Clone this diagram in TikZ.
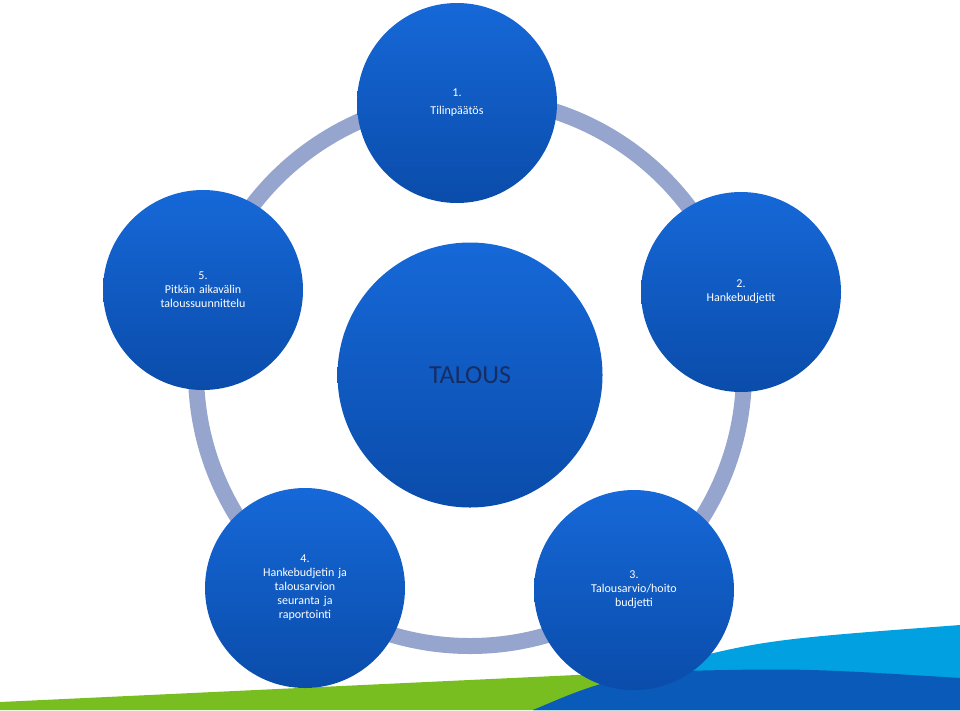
\documentclass[tikz,border=0pt]{standalone}
\usepackage{fontspec}
\setmainfont{Carlito}
\definecolor{ringc}{RGB}{150,165,205}
\definecolor{grn}{RGB}{120,190,32}
\definecolor{lblue}{RGB}{0,160,225}
\definecolor{dblue}{RGB}{10,90,185}
\definecolor{navy}{RGB}{22,45,100}
\definecolor{btop}{RGB}{22,104,216}
\definecolor{bbot}{RGB}{10,76,170}
\begin{document}
\begin{tikzpicture}[x=1pt,y=-1pt,
  bub/.style={circle,minimum size=200pt,inner sep=0pt,top color=btop,bottom color=bbot,text=white,font=\fontsize{12}{14}\selectfont,align=center,text width=150pt},
  ]
\useasboundingbox (0,0) rectangle (960,710);
\fill[grn] (0,702) -- (640,672) -- (960,675) -- (960,710) -- (0,710) -- cycle;
\fill[lblue] (533,710) -- (640,672) .. controls (760,640) .. (960,625) -- (960,710) -- cycle;
\fill[dblue] (533,710) .. controls (580,690) .. (640,672) .. controls (800,668) .. (960,678) -- (960,710) -- cycle;
\draw[ringc,line width=16pt] (470,372) circle (274);
\node[circle,minimum size=265pt,inner sep=0pt,top color=btop,bottom color=bbot] (c) at (470,375) {};
\node[text=navy,font=\fontsize{26}{30}\selectfont] (t) at (470,375) {TALOUS};
\node[bub] (n1) at (457,103) {1.\\[4pt]Tilinpäätös};
\node[bub] (n2) at (741,292) {2.\\Hankebudjetit};
\node[bub] (n3) at (634,590) {3.\\Talousarvio/hoito\\budjetti};
\node[bub] (n4) at (305,588) {4.\\Hankebudjetin ja\\talousarvion\\seuranta ja\\raportointi};
\node[bub] (n5) at (203,290) {5.\\Pitkän aikavälin\\taloussuunnittelu};
\end{tikzpicture}
\end{document}
